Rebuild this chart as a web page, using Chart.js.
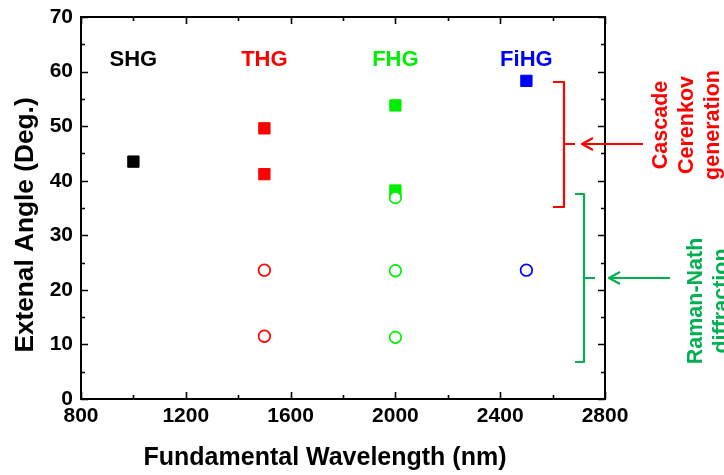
<!DOCTYPE html>
<html><head><meta charset="utf-8">
<script src="https://cdn.jsdelivr.net/npm/chart.js@4/dist/chart.umd.min.js"></script>
<style>html,body{margin:0;padding:0;background:#fff}#wrap{width:724px;height:475px}</style>
</head><body><div id="wrap"><canvas id="c"></canvas></div>
<script>
// ---- data ----
const harmonics = ['SHG', 'THG', 'FHG', 'FiHG'];
const wavelengths = [1000, 1500, 2000, 2500];
const cerenkovAngles = [[43.5], [49.6, 41.2], [53.8, 38.2], [58.3]];
const ramanNathAngles = [[], [23.6, 11.5], [36.9, 23.5, 11.3], [23.6]];
const xTicks = [800, 1200, 1600, 2000, 2400, 2800];
const yTicks = [0, 10, 20, 30, 40, 50, 60, 70];

const colors = ['#000000', '#ff0000', '#00ee00', '#0000ff'];
const FONT = "'Liberation Sans', Arial, sans-serif";

const datasets = [];
harmonics.forEach((h, i) => {
  if (ramanNathAngles[i].length) datasets.push({
    label: h + ' Raman-Nath',
    data: ramanNathAngles[i].map(v => ({x: wavelengths[i], y: v})),
    pointStyle: 'circle', pointRadius: 5.8, borderWidth: 1.7,
    borderColor: colors[i], backgroundColor: '#ffffff', showLine: false
  });
});
harmonics.forEach((h, i) => {
  datasets.push({
    label: h + ' Cerenkov',
    data: cerenkovAngles[i].map(v => ({x: wavelengths[i], y: v})),
    pointStyle: 'rect', pointRadius: 8, borderWidth: 1,
    borderColor: colors[i], backgroundColor: colors[i], showLine: false
  });
});

const deco = {
  id: 'deco',
  afterDraw(chart) {
    const {ctx, chartArea: a, scales: {x, y}} = chart;
    ctx.save();
    // frame
    ctx.strokeStyle = '#000'; ctx.lineWidth = 2;
    ctx.strokeRect(a.left, a.top, a.right - a.left, a.bottom - a.top);
    // ticks
    ctx.lineWidth = 1.6;
    ctx.beginPath();
    for (let v = 800; v <= 2800; v += 200) {
      const px = Math.round(x.getPixelForValue(v)) + 0.5;
      const L = (v % 400 === 0) ? 7 : 4;
      ctx.moveTo(px, a.bottom); ctx.lineTo(px, a.bottom - L);
      ctx.moveTo(px, a.top); ctx.lineTo(px, a.top + L);
    }
    for (let v = 0; v <= 70; v += 5) {
      const py = Math.round(y.getPixelForValue(v)) + 0.5;
      const L = (v % 10 === 0) ? 7 : 4;
      ctx.moveTo(a.left, py); ctx.lineTo(a.left + L, py);
      ctx.moveTo(a.right, py); ctx.lineTo(a.right - L, py);
    }
    ctx.stroke();

    // harmonic labels
    ctx.font = 'bold 22px ' + FONT;
    ctx.textAlign = 'center'; ctx.textBaseline = 'alphabetic';
    harmonics.forEach((h, i) => {
      ctx.fillStyle = colors[i];
      ctx.fillText(h, x.getPixelForValue(wavelengths[i]), 66);
    });

    // axis titles
    ctx.fillStyle = '#000';
    ctx.font = 'bold 25px ' + FONT;
    ctx.fillText('Fundamental Wavelength (nm)', 325, 465);
    ctx.save();
    ctx.translate(33, 225);
    ctx.rotate(-Math.PI / 2);
    ctx.scale(1.05, 1);
    ctx.fillText('Extenal Angle (Deg.)', 0, 0);
    ctx.restore();

    function bracket(col, xl, xv, xm, yt, yb, ym, ax0, ax1) {
      ctx.strokeStyle = col; ctx.lineWidth = 2.2;
      ctx.lineJoin = 'round';
      ctx.beginPath();
      ctx.moveTo(xl, yt); ctx.lineTo(xv, yt); ctx.lineTo(xv, yb); ctx.lineTo(xl, yb);
      ctx.moveTo(xv, ym); ctx.lineTo(xm, ym);
      ctx.stroke();
      ctx.beginPath();
      ctx.moveTo(ax1, ym); ctx.lineTo(ax0, ym);
      ctx.moveTo(ax0 + 11, ym - 6); ctx.lineTo(ax0, ym); ctx.lineTo(ax0 + 11, ym + 6);
      ctx.stroke();
    }
    bracket('#ff0000', 553, 564, 575, 82, 207, 144, 582, 643);
    bracket('#00b050', 575, 584, 595, 194, 362, 278, 609, 670);

    function vtext(col, lines, xs, yc) {
      ctx.fillStyle = col;
      ctx.font = 'bold 21.5px ' + FONT;
      lines.forEach((t, k) => {
        ctx.save();
        ctx.translate(xs[k], yc);
        ctx.rotate(-Math.PI / 2);
        ctx.textAlign = 'center'; ctx.textBaseline = 'alphabetic';
        ctx.fillText(t, 0, 0);
        ctx.restore();
      });
    }
    vtext('#ff0000', ['Cascade', 'Cerenkov', 'generation'], [667, 693, 719], 125);
    vtext('#00b050', ['Raman-Nath', 'diffraction'], [702, 728], 301);
    ctx.restore();
  }
};

new Chart(document.getElementById('c'), {
  type: 'scatter',
  data: {datasets},
  options: {
    responsive: true, maintainAspectRatio: false, animation: false,
    layout: {padding: {left: 0, right: 119, top: 17, bottom: 0}},
    plugins: {legend: {display: false}, tooltip: {enabled: false}},
    scales: {
      x: {
        type: 'linear', min: 800, max: 2800,
        afterBuildTicks: s => { s.ticks = xTicks.map(v => ({value: v})); },
        afterFit: s => { s.height = 76; s.paddingLeft = 0; s.paddingRight = 0; },
        grid: {display: false, drawTicks: false}, border: {display: false},
        ticks: {color: '#000', font: {family: FONT, size: 21, weight: 'bold'}, padding: 5, maxRotation: 0, autoSkip: false,
                callback: v => String(v)}
      },
      y: {
        type: 'linear', min: 0, max: 70,
        afterBuildTicks: s => { s.ticks = yTicks.map(v => ({value: v})); },
        afterFit: s => { s.width = 81; s.paddingTop = 0; s.paddingBottom = 0; },
        grid: {display: false, drawTicks: false}, border: {display: false},
        ticks: {color: '#000', font: {family: FONT, size: 21, weight: 'bold'}, padding: 8, autoSkip: false,
                callback: v => String(v)}
      }
    }
  },
  plugins: [deco]
});
</script></body></html>
